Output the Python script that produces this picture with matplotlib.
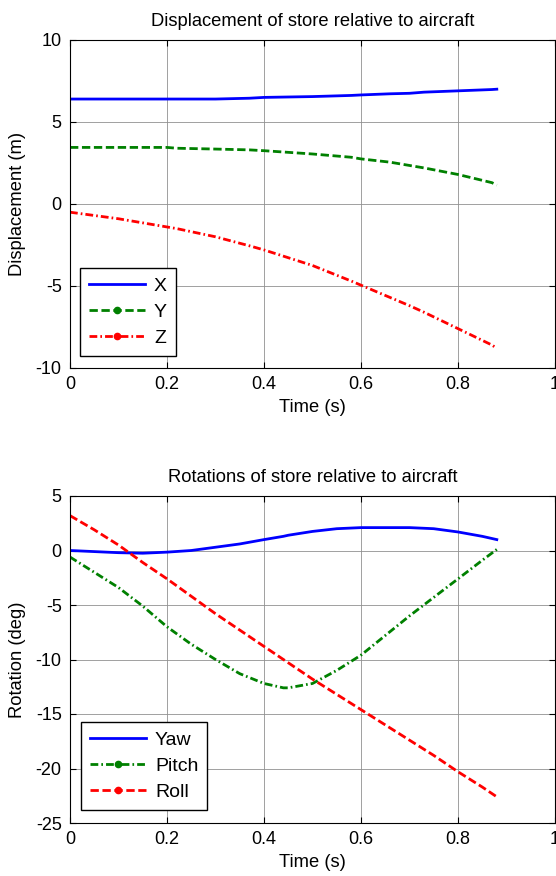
import matplotlib
matplotlib.use("Agg")
import matplotlib.pyplot as plt
from matplotlib.lines import Line2D

plt.rcParams['font.family'] = ['Liberation Sans', 'DejaVu Sans']
plt.rcParams['font.size'] = 13
plt.rcParams['axes.unicode_minus'] = False

# Displacement data
t_disp = [0.0, 0.1, 0.2, 0.22, 0.3, 0.37, 0.4, 0.5, 0.58, 0.6, 0.66, 0.7, 0.73, 0.8, 0.87, 0.88]
disp_x = [6.4, 6.4, 6.4, 6.4, 6.4, 6.45, 6.5, 6.55, 6.62, 6.65, 6.72, 6.75, 6.82, 6.9, 6.98, 7.0]
disp_y = [3.45, 3.45, 3.45, 3.4, 3.35, 3.3, 3.25, 3.05, 2.85, 2.75, 2.55, 2.35, 2.2, 1.8, 1.3, 1.15]
disp_z = [-0.5, -0.9, -1.4, -1.5, -2.0, -2.55, -2.8, -3.75, -4.7, -4.95, -5.7, -6.2, -6.6, -7.6, -8.6, -8.8]

# Rotation data
t_rot = [0.0, 0.05, 0.1, 0.15, 0.2, 0.25, 0.3, 0.35, 0.4, 0.44, 0.45, 0.5, 0.55, 0.6, 0.65, 0.7, 0.75, 0.8, 0.85, 0.88]
yaw = [0.0, -0.1, -0.2, -0.25, -0.15, 0.0, 0.3, 0.6, 1.0, 1.3, 1.4, 1.75, 2.0, 2.1, 2.1, 2.1, 2.0, 1.7, 1.3, 1.0]
pitch = [-0.6, -2.0, -3.4, -5.1, -7.0, -8.6, -10.0, -11.3, -12.2, -12.6, -12.6, -12.2, -11.0, -9.6, -7.8, -6.0, -4.3, -2.6, -0.9, 0.1]
roll = [3.2, 1.9, 0.5, -1.1, -2.6, -4.2, -5.8, -7.3, -8.8, -10.0, -10.3, -11.8, -13.2, -14.6, -16.0, -17.4, -18.8, -20.3, -21.7, -22.6]

fig = plt.figure(figsize=(5.56, 8.76), dpi=100)
ax1 = fig.add_axes([70/556, 1-368/876, 485/556, 328/876])
ax2 = fig.add_axes([70/556, 1-823/876, 485/556, 327/876])

def style(ax):
    ax.set_xlim(0, 1)
    ax.grid(True, color='#909090', linewidth=0.6, linestyle='-')
    ax.tick_params(direction='in', top=True, right=True, length=4, width=0.8,
                   labelsize=13, pad=6)
    for s in ax.spines.values():
        s.set_linewidth(0.8)
    ax.set_xticks([0, 0.2, 0.4, 0.6, 0.8, 1.0])
    ax.set_xticklabels(['0', '0.2', '0.4', '0.6', '0.8', '1'])

lw = 2.0
dash = (0, (3, 1.3))
dashdot = (0, (2.8, 1.1, 0.6, 1.1))

ax1.plot(t_disp, disp_x, color='#0000ff', linewidth=lw, linestyle='-')
ax1.plot(t_disp, disp_y, color='#008000', linewidth=lw, linestyle=dash)
ax1.plot(t_disp, disp_z, color='#ff0000', linewidth=lw, linestyle=dashdot)
style(ax1)
ax1.set_ylim(-10, 10)
ax1.set_yticks([-10, -5, 0, 5, 10])
ax1.set_title('Displacement of store relative to aircraft', fontsize=13.2, pad=10)
ax1.set_xlabel('Time (s)', fontsize=13.2, labelpad=4)
ax1.set_ylabel('Displacement (m)', fontsize=13.2, labelpad=7)

legkw = dict(loc='lower left', numpoints=1, fancybox=False, edgecolor='black', framealpha=1,
             fontsize=14, handlelength=2.9, handletextpad=0.45, borderpad=0.45,
             labelspacing=0.45, borderaxespad=0)
h1 = [Line2D([], [], color='#0000ff', linewidth=lw, linestyle='-'),
      Line2D([], [], color='#008000', linewidth=lw, linestyle=dash, marker='o', markersize=4.5),
      Line2D([], [], color='#ff0000', linewidth=lw, linestyle=dashdot, marker='o', markersize=4.5)]
leg1 = ax1.legend(h1, ['X', 'Y', 'Z'], bbox_to_anchor=(10/485, 12/328), **legkw)
leg1.get_frame().set_linewidth(1.0)

ax2.plot(t_rot, yaw, color='#0000ff', linewidth=lw, linestyle='-')
ax2.plot(t_rot, pitch, color='#008000', linewidth=lw, linestyle=dashdot)
ax2.plot(t_rot, roll, color='#ff0000', linewidth=lw, linestyle=dash)
style(ax2)
ax2.set_ylim(-25, 5)
ax2.set_yticks([-25, -20, -15, -10, -5, 0, 5])
ax2.set_title('Rotations of store relative to aircraft', fontsize=13.2, pad=10)
ax2.set_xlabel('Time (s)', fontsize=13.2, labelpad=4)
ax2.set_ylabel('Rotation (deg)', fontsize=13.2, labelpad=7)
h2 = [Line2D([], [], color='#0000ff', linewidth=lw, linestyle='-'),
      Line2D([], [], color='#008000', linewidth=lw, linestyle=dashdot, marker='o', markersize=4.5),
      Line2D([], [], color='#ff0000', linewidth=lw, linestyle=dash, marker='o', markersize=4.5)]
leg2 = ax2.legend(h2, ['Yaw', 'Pitch', 'Roll'], bbox_to_anchor=(11/485, 13/327), **legkw)
leg2.get_frame().set_linewidth(1.0)

fig.savefig('out.png', dpi=100)
